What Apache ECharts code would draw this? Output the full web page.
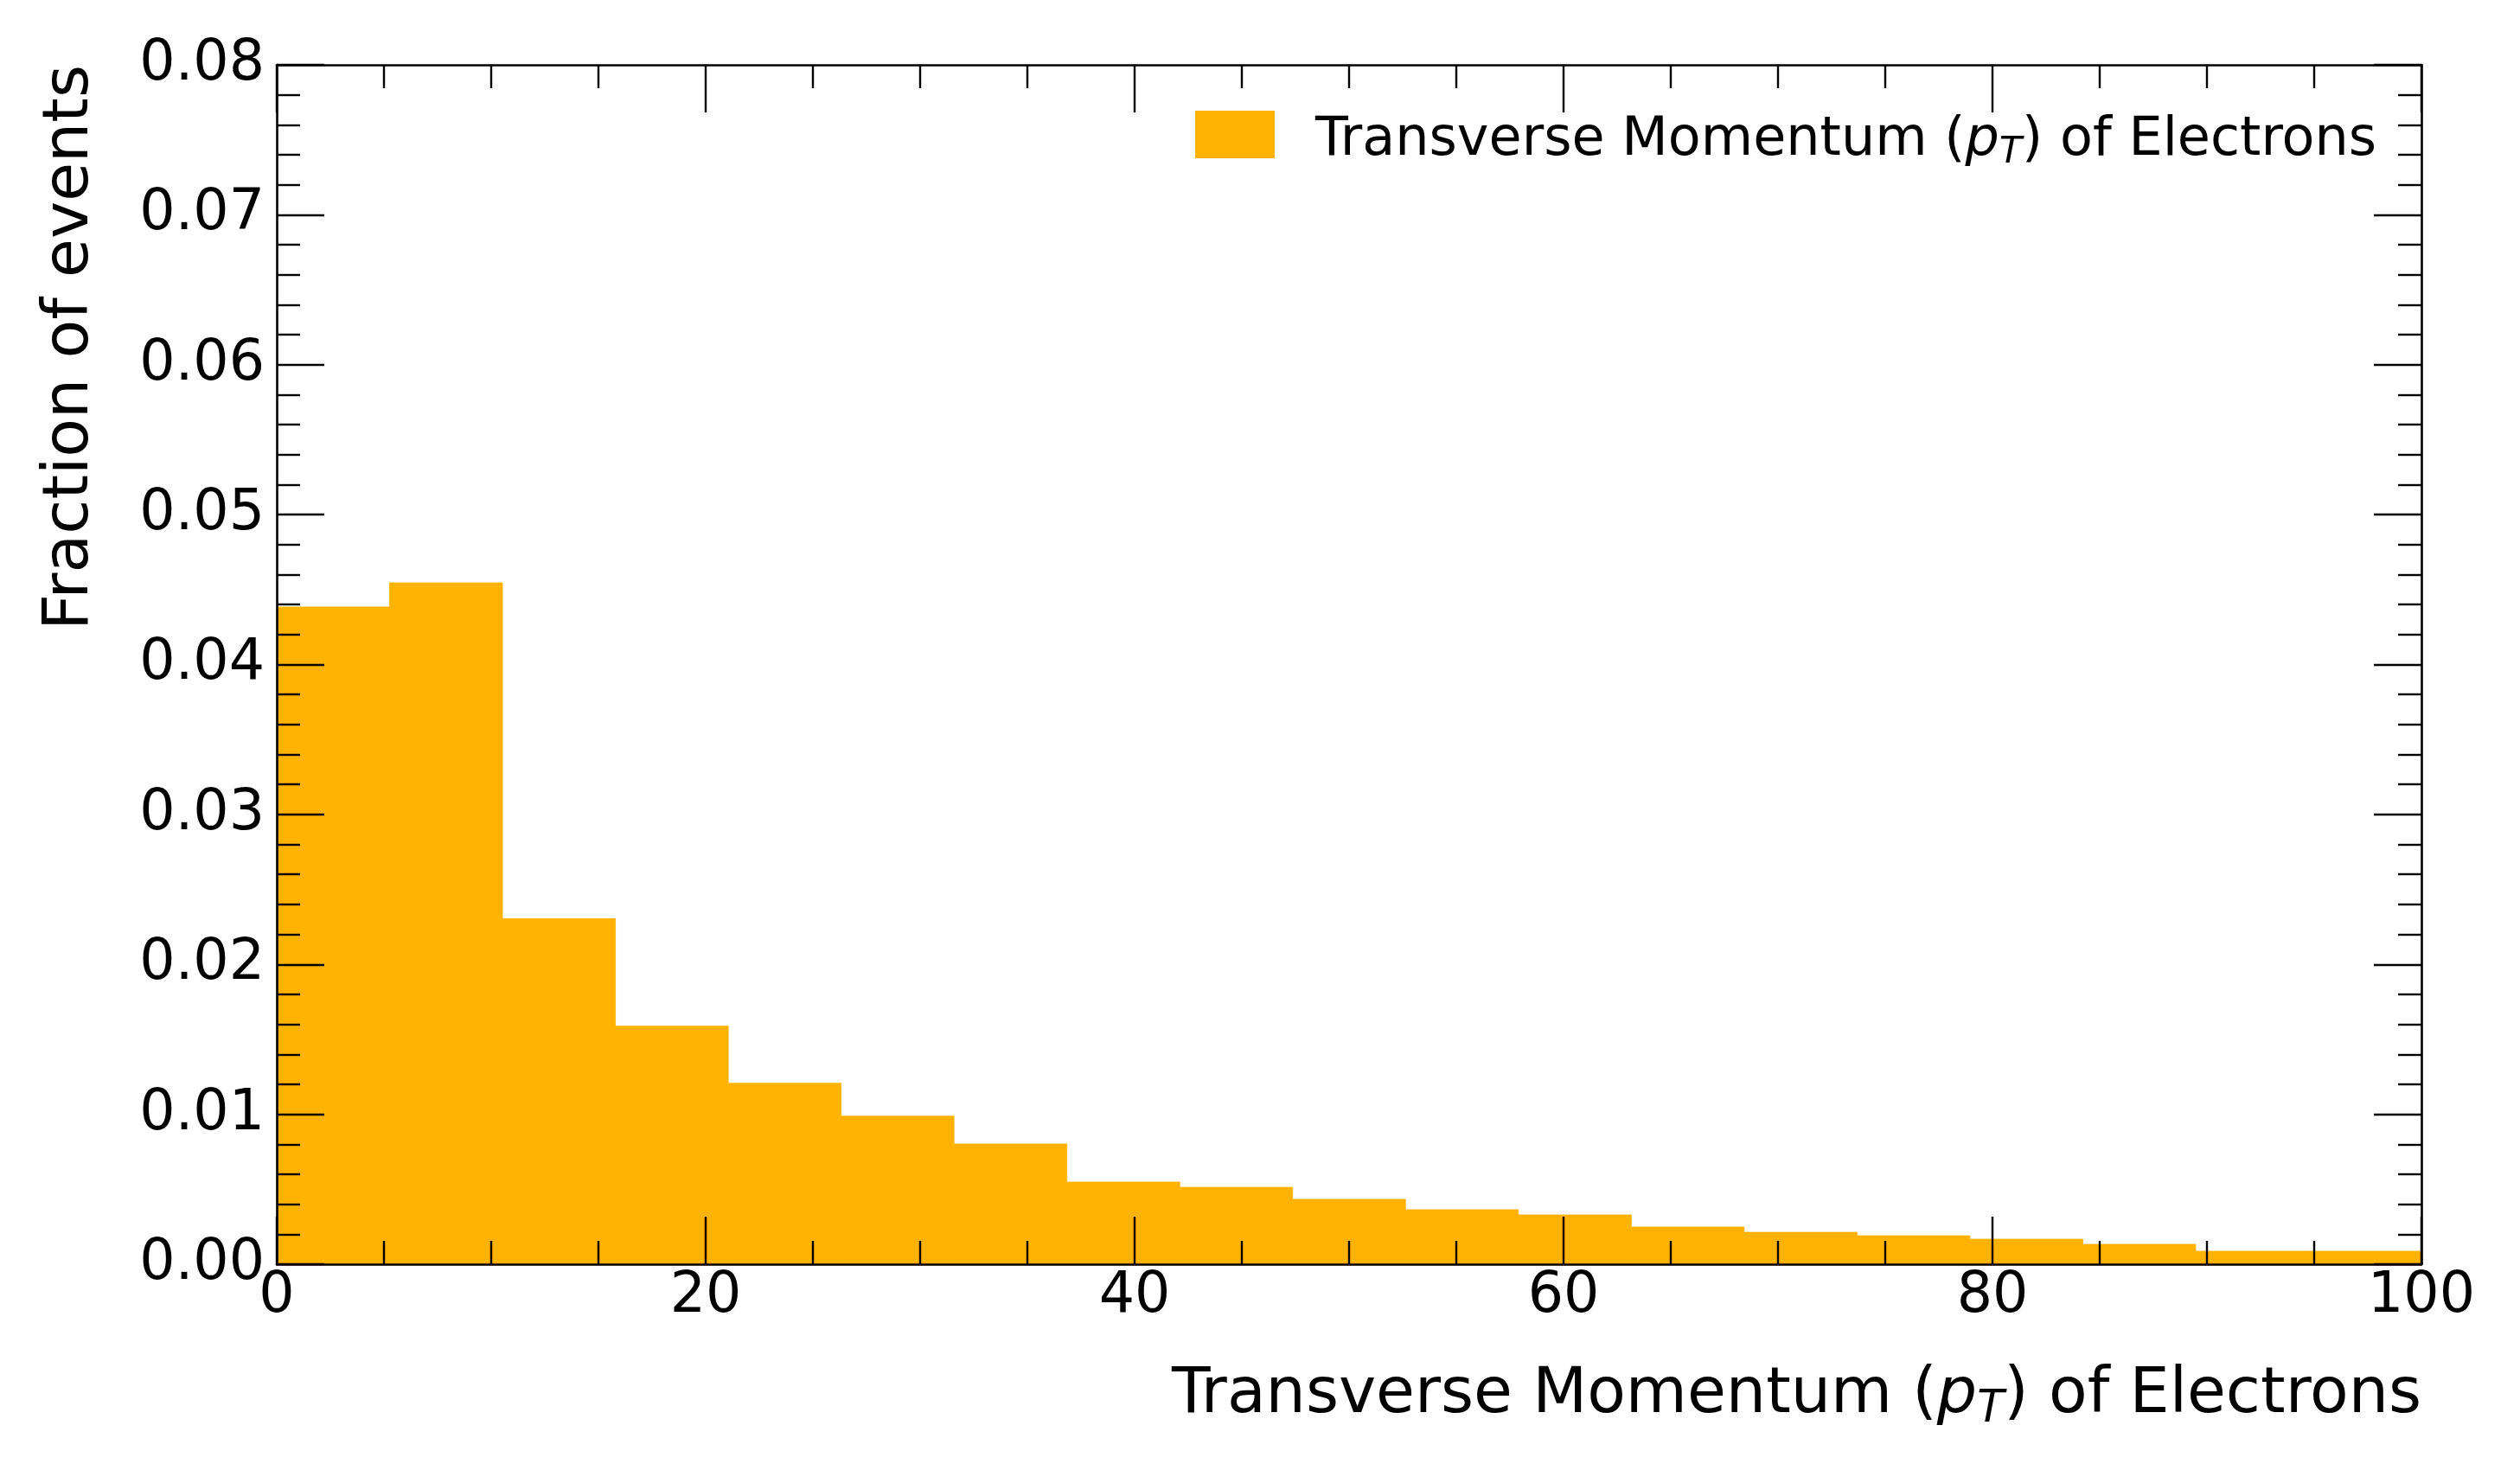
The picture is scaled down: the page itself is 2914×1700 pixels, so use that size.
<!DOCTYPE html>
<html><head><meta charset="utf-8">
<script src="https://cdn.jsdelivr.net/npm/echarts@6/dist/echarts.min.js"></script>
<style>html,body{margin:0;padding:0;background:#fff}#c{width:2914px;height:1700px}</style>
</head><body><div id="c"></div>
<script>
// ---- data ----
const binEdges = [0, 5.263, 10.526, 15.789, 21.053, 26.316, 31.579, 36.842, 42.105, 47.368,
  52.632, 57.895, 63.158, 68.421, 73.684, 78.947, 84.211, 89.474, 94.737, 100];
const fractions = [0.04384, 0.04545, 0.02305, 0.01588, 0.01207, 0.00988, 0.00802, 0.00548, 0.00513,
  0.00433, 0.00364, 0.00329, 0.00248, 0.00213, 0.00190, 0.00167, 0.00133, 0.00087, 0.00087];
const xTickLabels = [0, 20, 40, 60, 80, 100];
const yTickLabels = ['0.00', '0.01', '0.02', '0.03', '0.04', '0.05', '0.06', '0.07', '0.08'];
const seriesName = 'Transverse Momentum (pT) of Electrons';
const yTitle = 'Fraction of events';
const titleParts = ['Transverse Momentum (', 'p', 'T', ') of Electrons'];

// ---- styling ----
const FONT = 'DejaVu Sans';
const ORANGE = '#ffb300';
const TICK_FS = 65;
const LABEL_FS = 73;
const LEGEND_FS = 62;

const histData = fractions.map((v, i) => [binEdges[i], binEdges[i + 1], v]);

const chart = echarts.init(document.getElementById('c'), null, {renderer: 'canvas'});

function axisCommon(showLabel, isX) {
  return {
    type: 'value',
    z: 5,
    min: isX ? xTickLabels[0] : 0,
    max: isX ? xTickLabels[xTickLabels.length - 1] : 0.08,
    interval: isX ? 20 : 0.01,
    splitLine: {show: false},
    axisLine: {show: true, onZero: false, lineStyle: {color: '#000', width: 2.6}},
    axisTick: {show: true, inside: true, length: 55, lineStyle: {color: '#000', width: 2.4}},
    minorTick: {show: true, splitNumber: isX ? 4 : 5, length: 27, lineStyle: {color: '#000', width: 2.4}},
    axisLabel: {
      show: showLabel,
      fontFamily: FONT,
      fontSize: TICK_FS,
      color: '#000',
      margin: isX ? 6 : 14,
      formatter: isX ? (v) => String(v) : (v) => yTickLabels[Math.round(v * 100)]
    }
  };
}

const richMain = (fs) => ({
  n: {fontFamily: FONT, fontSize: fs, color: '#000', lineHeight: fs * 1.25, verticalAlign: 'middle'},
  i: {fontFamily: FONT, fontSize: fs, fontStyle: 'italic', color: '#000', lineHeight: fs * 1.25, verticalAlign: 'middle'},
  s: {fontFamily: FONT, fontSize: Math.round(fs * 0.7), fontStyle: 'italic', color: '#000',
      lineHeight: fs * 1.25, verticalAlign: 'middle', padding: [Math.round(fs * 0.45), 0, 0, 0]}
});
const richText = '{n|' + titleParts[0] + '}{i|' + titleParts[1] + '}{s|' + titleParts[2] + '}{n|' + titleParts[3] + '}';

const option = {
  backgroundColor: '#fff',
  animation: false,
  grid: {left: 320, right: 114, top: 75, bottom: 238, containLabel: false, outerBoundsMode: 'none'},
  xAxis: [
    Object.assign(axisCommon(true, true), {position: 'bottom'}),
    Object.assign(axisCommon(false, true), {position: 'top'})
  ],
  yAxis: [
    Object.assign(axisCommon(true, false), {position: 'left'}),
    Object.assign(axisCommon(false, false), {position: 'right'})
  ],
  legend: {
    show: true,
    left: 1382,
    top: 127,
    padding: 0,
    itemWidth: 92,
    itemHeight: 55,
    data: [{name: seriesName, icon: 'rect'}],
    formatter: () => richText,
    textStyle: {
      fontFamily: FONT, fontSize: LEGEND_FS, color: '#000',
      padding: [14, 0, 0, 42],
      rich: richMain(LEGEND_FS)
    }
  },
  graphic: [
    {
      type: 'text',
      x: 2800, y: 1614,
      style: {
        text: richText,
        textAlign: 'right', textVerticalAlign: 'middle',
        fontFamily: FONT, fontSize: LABEL_FS, fill: '#000',
        rich: richMain(LABEL_FS)
      }
    },
    {
      type: 'text',
      x: 82, y: 75,
      rotation: Math.PI / 2,
      style: {
        text: yTitle,
        textAlign: 'right', textVerticalAlign: 'middle',
        fontFamily: FONT, fontSize: LABEL_FS, fill: '#000'
      }
    }
  ],
  series: [{
    name: seriesName,
    type: 'custom',
    xAxisIndex: 0,
    yAxisIndex: 0,
    itemStyle: {color: ORANGE},
    encode: {x: [0, 1], y: 2},
    data: histData,
    renderItem: function (params, api) {
      const p0 = api.coord([api.value(0), api.value(2)]);
      const p1 = api.coord([api.value(1), 0]);
      return {
        type: 'rect',
        shape: {x: p0[0], y: p0[1], width: p1[0] - p0[0], height: p1[1] - p0[1]},
        style: {fill: ORANGE, stroke: ORANGE, lineWidth: 0.8}
      };
    }
  }]
};
chart.setOption(option);
</script>
</body></html>
